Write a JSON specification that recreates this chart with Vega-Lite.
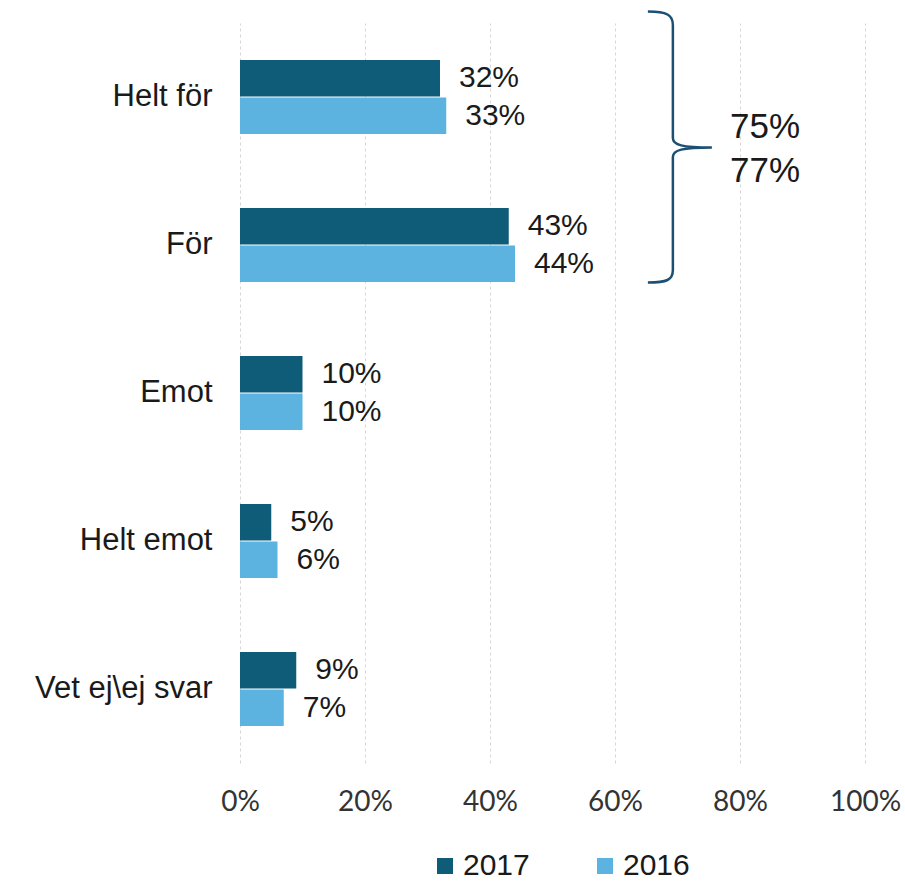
{
  "$schema": "https://vega.github.io/schema/vega-lite/v6.json",
  "width": 625,
  "height": 740,
  "autosize": {"type": "none"},
  "padding": {"left": 240, "top": 23, "right": 40, "bottom": 118},
  "background": "white",
  "config": {
    "view": {"stroke": null},
    "font": "Liberation Sans"
  },
  "layer": [
    {
      "data": {
        "values": [
          {"cat": "Helt för", "year": "2017", "value": 0.32, "label": "32%"},
          {"cat": "Helt för", "year": "2016", "value": 0.33, "label": "33%"},
          {"cat": "För", "year": "2017", "value": 0.43, "label": "43%"},
          {"cat": "För", "year": "2016", "value": 0.44, "label": "44%"},
          {"cat": "Emot", "year": "2017", "value": 0.10, "label": "10%"},
          {"cat": "Emot", "year": "2016", "value": 0.10, "label": "10%"},
          {"cat": "Helt emot", "year": "2017", "value": 0.05, "label": "5%"},
          {"cat": "Helt emot", "year": "2016", "value": 0.06, "label": "6%"},
          {"cat": "Vet ej\\ej svar", "year": "2017", "value": 0.09, "label": "9%"},
          {"cat": "Vet ej\\ej svar", "year": "2016", "value": 0.07, "label": "7%"}
        ]
      },
      "encoding": {
        "y": {
          "field": "cat",
          "type": "nominal",
          "sort": ["Helt för", "För", "Emot", "Helt emot", "Vet ej\\ej svar"],
          "scale": {"domain": ["Helt för", "För", "Emot", "Helt emot", "Vet ej\\ej svar"], "paddingInner": 0.5, "paddingOuter": 0.25},
          "axis": {
            "title": null,
            "domain": false,
            "ticks": false,
            "labelFontSize": 31,
            "labelColor": "#1a1a1a",
            "labelPadding": 28,
            "labelFont": "Liberation Sans"
          }
        },
        "yOffset": {
          "field": "year",
          "type": "nominal",
          "sort": ["2017", "2016"],
          "scale": {"paddingInner": 0.03}
        },
        "x": {
          "field": "value",
          "type": "quantitative",
          "scale": {"domain": [0, 1]},
          "axis": {
            "title": null,
            "format": ".0%",
            "values": [0, 0.2, 0.4, 0.6, 0.8, 1],
            "grid": true,
            "gridColor": "#d6d6d6",
            "gridDash": [3, 3],
            "gridWidth": 1,
            "domain": false,
            "ticks": false,
            "labelFont": "Lato",
            "labelFontSize": 28,
            "labelColor": "#333333",
            "labelPadding": 25,
            "labelFlush": false
          }
        }
      },
      "layer": [
        {
          "mark": {"type": "bar"},
          "encoding": {
            "color": {
              "field": "year",
              "type": "nominal",
              "scale": {"domain": ["2017", "2016"], "range": ["#0f5c78", "#5cb3df"]},
              "legend": {
                "title": null,
                "orient": "none",
                "direction": "horizontal",
                "legendX": 190,
                "legendY": 828,
                "symbolType": "square",
                "symbolSize": 256,
                "symbolStrokeWidth": 0,
                "labelFontSize": 30,
                "labelFont": "Liberation Sans",
                "labelColor": "#1a1a1a",
                "labelOffset": 3,
                "columnPadding": 60
              }
            }
          }
        },
        {
          "mark": {
            "type": "text",
            "align": "left",
            "baseline": "middle",
            "dx": 19,
            "fontSize": 30,
            "font": "Liberation Sans",
            "color": "#1a1a1a"
          },
          "encoding": {"text": {"field": "label"}}
        }
      ]
    },
    {
      "data": {"values": [{"cat": "Helt för", "pos": 0.755}]},
      "mark": {
        "type": "point",
        "filled": false,
        "shape": "M -0.64 -0.855 C -0.45 -0.855 -0.39 -0.82 -0.39 -0.72 L -0.39 0.41 C -0.39 0.48 -0.3 0.505 0 0.505 C -0.3 0.505 -0.39 0.53 -0.39 0.6 L -0.39 1.73 C -0.39 1.83 -0.45 1.855 -0.64 1.855",
        "size": 40000,
        "stroke": "#1d4f73",
        "strokeWidth": 2.5,
        "opacity": 1
      },
      "encoding": {
        "x": {"field": "pos", "type": "quantitative"},
        "y": {"field": "cat", "type": "nominal", "sort": ["Helt för", "För", "Emot", "Helt emot", "Vet ej\\ej svar"]}
      }
    },
    {
      "data": {"values": [{"cat": "Helt för", "pos": 0.784, "txt": "75%\n77%"}]},
      "mark": {
        "type": "text",
        "align": "left",
        "baseline": "middle",
        "lineBreak": "\n",
        "lineHeight": 44,
        "dy": 30,
        "fontSize": 35,
        "font": "Liberation Sans",
        "color": "#1a1a1a"
      },
      "encoding": {
        "x": {"field": "pos", "type": "quantitative"},
        "y": {"field": "cat", "type": "nominal", "sort": ["Helt för", "För", "Emot", "Helt emot", "Vet ej\\ej svar"]},
        "text": {"field": "txt"}
      }
    }
  ]
}
